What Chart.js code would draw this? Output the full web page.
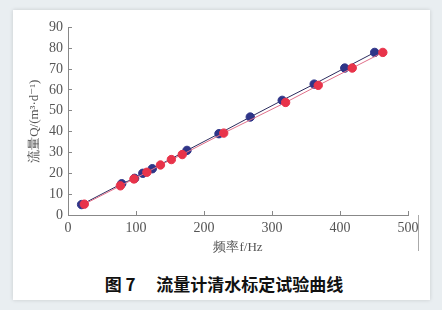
<!DOCTYPE html>
<html>
<head>
<meta charset="utf-8">
<script src="https://cdn.jsdelivr.net/npm/chart.js@4.4.1/dist/chart.umd.min.js"></script>
<style>
  html, body { margin: 0; padding: 0; }
  body { width: 442px; height: 310px; background: #e9eef1; position: relative; overflow: hidden; }
  #card { position: absolute; left: 13px; top: 10px; width: 417px; height: 290px; background: #fff; box-shadow: 0 0 4px rgba(0,0,0,0.15); }
  #wrap { position: absolute; left: 13px; top: 10px; width: 417px; height: 245px; }
  #edge { position: absolute; left: 418px; top: 215px; width: 1px; height: 36px; background: #aaa; }
  #caption { position: absolute; left: 0; top: 271px; width: 448px; text-align: center; font-family: "Noto Sans CJK SC", sans-serif; font-weight: bold; font-size: 17px; color: #111; white-space: pre; }
</style>
</head>
<body>
<div id="card"></div>
<div id="wrap"><canvas id="chart"></canvas></div>
<div id="edge"></div>
<div id="caption">图 7　 流量计清水标定试验曲线</div>
<script>
// blue series (darker, slightly left)
const blueF = [20, 79, 98, 110, 124, 175, 222, 268, 315, 362, 407, 451]
const blueQ = [5, 15, 17.6, 20, 22.2, 31, 39, 47, 55, 62.8, 70.5, 78]
// red series
const redF = [24, 77, 97, 116, 136, 152, 168, 229, 320, 368, 418, 463]
const redQ = [5.2, 14, 17.3, 20.5, 24, 26.6, 29, 39.3, 54, 62.2, 70.5, 78]

const xTicks = [0, 100, 200, 300, 400, 500]
const yTicks = [0, 10, 20, 30, 40, 50, 60, 70, 80, 90]

const toPoints = (xs, ys) => xs.map((x, i) => ({ x: x, y: ys[i] }))

const ctx = document.getElementById('chart').getContext('2d')
const axisFont = { family: '"Liberation Serif", "DejaVu Serif", serif', size: 14 }
const titleFont = { family: '"Liberation Serif", "DejaVu Serif", serif', size: 13 }
const myChart = new Chart(ctx, {
  type: 'scatter',
  data: {
    datasets: [
      {
        label: 'red',
        data: toPoints(redF, redQ),
        showLine: true,
        borderColor: '#e0708a',
        borderWidth: 1,
        backgroundColor: '#e8334a',
        pointBorderColor: '#e8334a',
        pointRadius: 4.2,
      },
      {
        label: 'blue',
        data: toPoints(blueF, blueQ),
        showLine: true,
        borderColor: '#2c2c5e',
        borderWidth: 1,
        backgroundColor: '#2f3588',
        pointBorderColor: '#2f3588',
        pointRadius: 4.2,
      },
    ],
  },
  options: {
    responsive: true,
    maintainAspectRatio: false,
    animation: false,
    layout: { padding: { top: 12, right: 22, left: 0, bottom: 0 } },
    plugins: { legend: { display: false }, tooltip: { enabled: false } },
    scales: {
      x: {
        type: 'linear',
        min: 0,
        max: 500,
        afterBuildTicks: (axis) => { axis.ticks = xTicks.map(v => ({ value: v })) },
        afterFit: (axis) => { axis.height = 40 },
        grid: { display: true, drawOnChartArea: false, drawTicks: true, tickLength: -4, color: '#888' },
        border: { color: '#888', width: 1 },
        ticks: { color: '#555', font: axisFont, padding: 9, maxRotation: 0 },
        title: { display: true, text: '频率f/Hz', color: '#555', font: titleFont, padding: 0 },
      },
      y: {
        min: 0,
        max: 90,
        afterBuildTicks: (axis) => { axis.ticks = yTicks.map(v => ({ value: v })) },
        afterFit: (axis) => { axis.width = 55 },
        grid: { display: true, drawOnChartArea: false, drawTicks: true, tickLength: -4, color: '#888' },
        border: { color: '#888', width: 1 },
        ticks: { color: '#555', font: axisFont, padding: 9 },
        title: { display: true, text: '流量Q/(m³·d⁻¹)', color: '#555', font: titleFont, padding: { top: 14, bottom: 0 } },
      },
    },
  },
})
</script>
</body>
</html>
